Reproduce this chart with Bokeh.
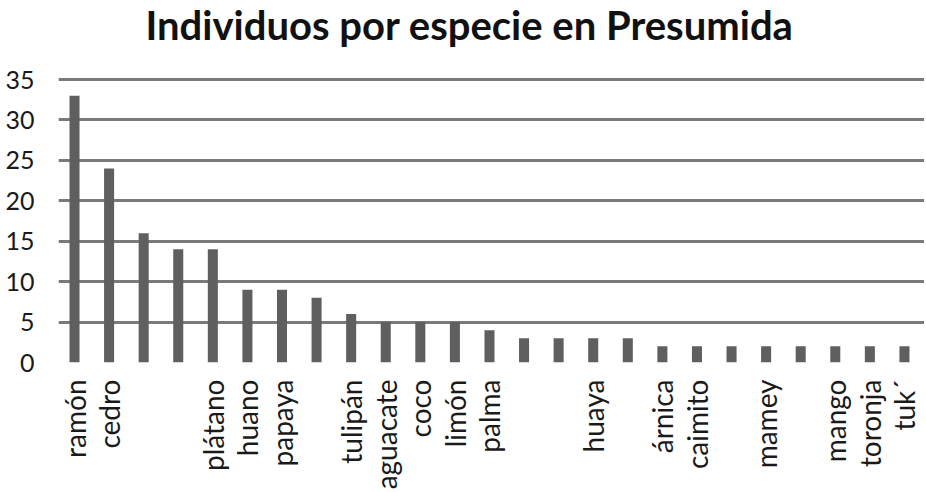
from bokeh.plotting import figure
from bokeh.models import ColumnDataSource, FixedTicker, Range1d, Label
from bokeh.embed import file_html
from bokeh.resources import INLINE

# Data
title_text = "Individuos por especie en Presumida"
positions = list(range(1, 26))
species = ["ramón", "cedro", "", "", "plátano", "huano", "papaya", "",
           "tulipán", "aguacate", "coco", "limón", "palma", "", "", "huaya",
           "", "árnica", "caimito", "", "mamey", "", "mango", "toronja", "tuk´"]
individuals = [33, 24, 16, 14, 14, 9, 9, 8, 6, 5, 5, 5, 4, 3, 3, 3, 3,
               2, 2, 2, 2, 2, 2, 2, 2]
y_ticks = [0, 5, 10, 15, 20, 25, 30, 35]

FONT = "Lato"

src = ColumnDataSource(dict(x=positions, y=individuals))

# The frame also covers the title band; only 0..35 carries ticks and grid lines.
p = figure(frame_width=866, frame_height=362, output_backend="svg",
           toolbar_location=None,
           x_range=Range1d(0.537, 25.58), y_range=Range1d(0, 35 * 362 / 283),
           min_border_left=58, min_border_right=0, min_border_top=0,
           min_border_bottom=10)
p.outline_line_color = None
p.background_fill_color = "white"

p.vbar(x="x", top="y", width=0.29, bottom=0, source=src,
       fill_color="#5f5f5f", line_color=None)

p.xgrid.grid_line_color = None
p.ygrid.grid_line_color = "#7a7a7a"
p.ygrid.grid_line_width = 3
p.yaxis.ticker = FixedTicker(ticks=y_ticks)
p.ygrid.ticker = FixedTicker(ticks=y_ticks)

p.yaxis.axis_line_color = None
p.yaxis.major_tick_line_color = None
p.yaxis.minor_tick_line_color = None
p.yaxis.major_label_text_font = FONT
p.yaxis.major_label_text_font_size = "25px"
p.yaxis.major_label_text_color = "#1a1a1a"
p.yaxis.major_label_standoff = 18

p.xaxis.ticker = FixedTicker(ticks=positions)
p.xaxis.major_label_overrides = {pos: lab for pos, lab in zip(positions, species)}
p.xaxis.major_label_orientation = 1.5708
p.xaxis.axis_line_color = None
p.xaxis.major_tick_line_color = None
p.xaxis.minor_tick_line_color = None
p.xaxis.major_label_text_font = FONT
p.xaxis.major_label_text_font_size = "28px"
p.xaxis.major_label_text_color = "#1a1a1a"
p.xaxis.major_label_standoff = 11

title = Label(x=87, y=338, x_units="screen", y_units="screen",
              text=title_text, text_font=FONT, text_font_size="40px",
              text_font_style="bold", text_color="#111111",
              text_align="left", text_baseline="alphabetic")
p.add_layout(title)

open("out.html", "w").write(file_html(p, INLINE))
